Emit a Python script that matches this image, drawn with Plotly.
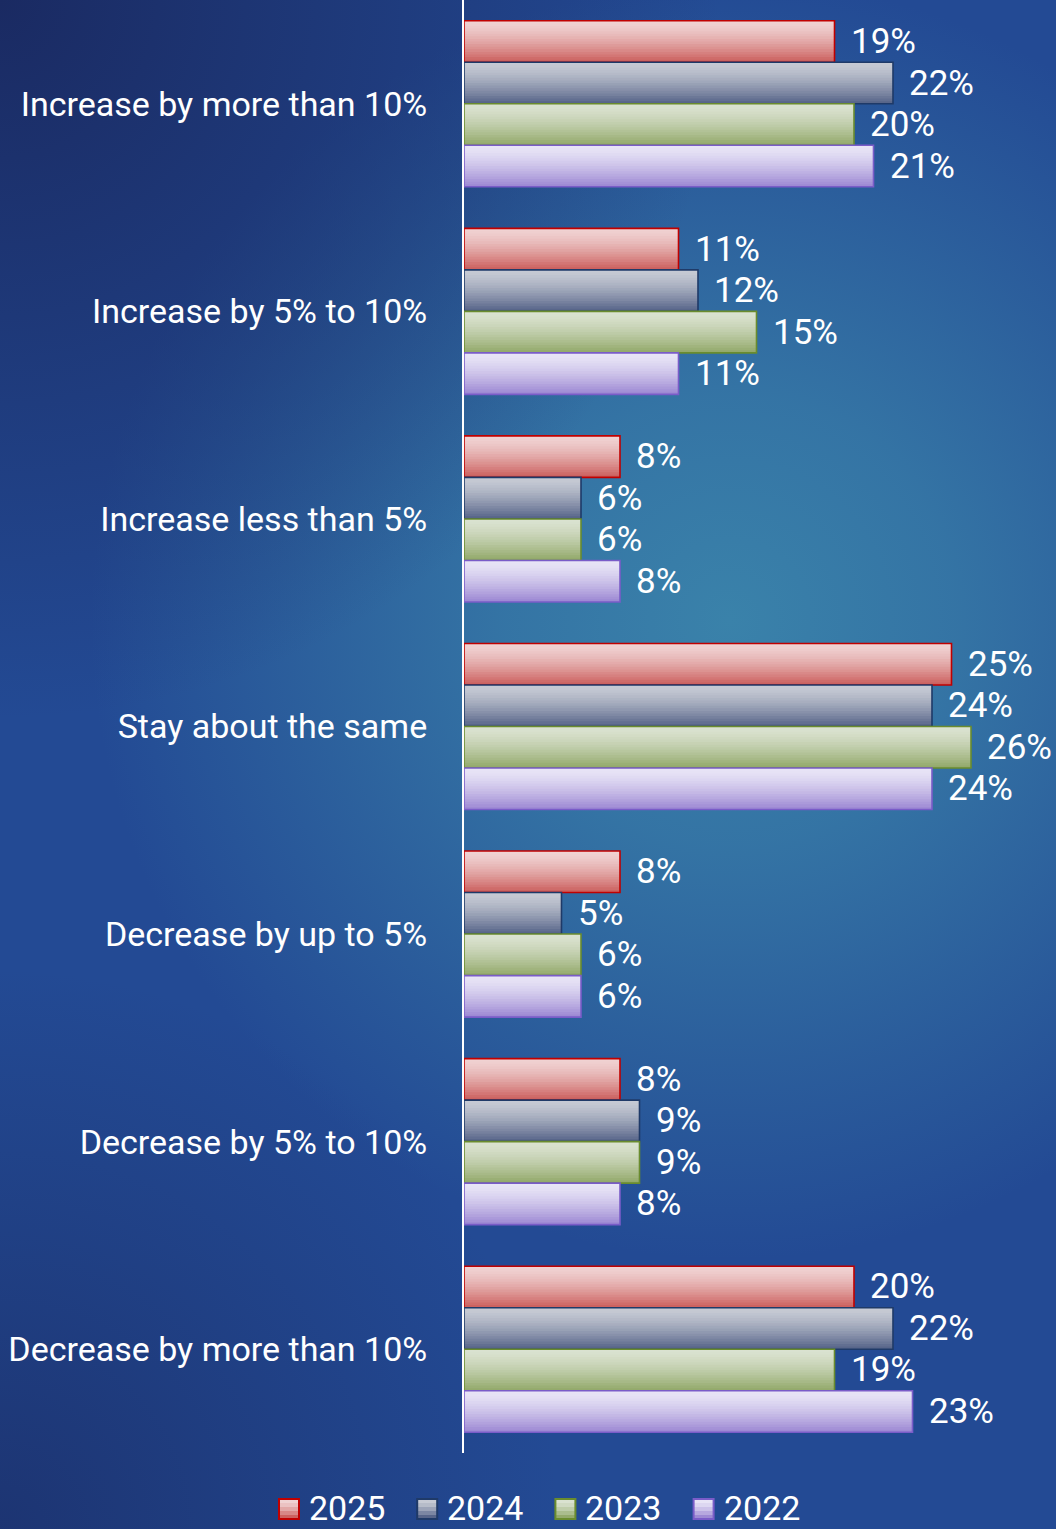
import base64
import plotly.graph_objects as go

# ---- data ----------------------------------------------------------------
categories = [
    "Increase by more than 10%",
    "Increase by 5% to 10%",
    "Increase less than 5%",
    "Stay about the same",
    "Decrease by up to 5%",
    "Decrease by 5% to 10%",
    "Decrease by more than 10%",
]
years = ["2025", "2024", "2023", "2022"]
values_2025 = [19, 11, 8, 25, 8, 8, 20]
values_2024 = [22, 12, 6, 24, 5, 9, 22]
values_2023 = [20, 15, 6, 26, 6, 9, 19]
values_2022 = [21, 11, 8, 24, 6, 8, 23]
series = [values_2025, values_2024, values_2023, values_2022]

# ---- styling ---------------------------------------------------------------
grad_top = [(240, 210, 210), (198, 202, 212), (218, 226, 208), (232, 228, 246)]
grad_bot = [(204, 98, 96), (88, 102, 138), (148, 170, 108), (158, 138, 212)]
borders = ["#C00000", "#1F3A68", "#6A8C2E", "#7A5CC8"]
FONT = "Roboto"

W, H = 1056, 1529
ML, MR, MT, MB = 464, 0, 0, 76
PW, PH = W - ML - MR, H - MT - MB
PX_PER_UNIT = 19.5
BAR_W = 0.2          # each bar's thickness in category units
N_STRIPS = 16        # layers used to build the vertical shading of a bar

# legend row (pixel layout)
LEG_X0, LEG_PITCH, LEG_CY, LEG_BOX = 279, 138.2, 1509, 20


def mix(c0, c1, f):
    return "rgb(%d,%d,%d)" % tuple(round(a + (b - a) * f) for a, b in zip(c0, c1))


def paper_x(px):
    return (px - ML) / PW


def paper_y(py):
    return (MT + PH - py) / PH


fig = go.Figure()

for i, vals in enumerate(series):
    base_off = -0.4 + i * BAR_W
    sw = BAR_W / N_STRIPS
    # shaded body: each layer starts lower and runs to the bar's bottom edge,
    # so later (darker) layers cover the lower part without leaving seams
    for k in range(N_STRIPS):
        t = k / (N_STRIPS - 1)
        fig.add_trace(go.Bar(
            orientation="h", y=categories, x=vals,
            offset=base_off + k * sw, width=BAR_W - k * sw,
            marker=dict(color=mix(grad_top[i], grad_bot[i], t ** 1.4), line=dict(width=0)),
            showlegend=False, hoverinfo="skip",
        ))
    # outline
    fig.add_trace(go.Bar(
        orientation="h", y=categories, x=vals, name=years[i],
        offset=base_off, width=BAR_W,
        marker=dict(color="rgba(0,0,0,0)", line=dict(color=borders[i], width=1.6)),
        showlegend=False,
    ))
    # value labels
    for j, v in enumerate(vals):
        fig.add_annotation(
            x=v, y=j + base_off + BAR_W / 2, xref="x", yref="y",
            text=f"{v}%", showarrow=False, xanchor="left", yanchor="middle",
            xshift=14, font=dict(family=FONT, size=35, color="white"),
        )

    # legend entry: shaded swatch + year
    lx = LEG_X0 + i * LEG_PITCH
    top, bot = LEG_CY - LEG_BOX / 2, LEG_CY + LEG_BOX / 2
    n_sw = 5
    for k in range(n_sw):
        fig.add_shape(
            type="rect", xref="paper", yref="paper",
            x0=paper_x(lx), x1=paper_x(lx + LEG_BOX),
            y0=paper_y(top + k * LEG_BOX / n_sw), y1=paper_y(bot),
            fillcolor=mix(grad_top[i], grad_bot[i], (k / (n_sw - 1)) ** 1.4),
            line=dict(width=0), layer="above",
        )
    fig.add_shape(
        type="rect", xref="paper", yref="paper",
        x0=paper_x(lx), x1=paper_x(lx + LEG_BOX), y0=paper_y(top), y1=paper_y(bot),
        fillcolor="rgba(0,0,0,0)", line=dict(color=borders[i], width=2), layer="above",
    )
    fig.add_annotation(
        x=paper_x(lx + LEG_BOX + 9), y=paper_y(LEG_CY - 1), xref="paper", yref="paper",
        text=years[i], showarrow=False, xanchor="left", yanchor="middle", borderpad=0,
        font=dict(family=FONT, size=34, color="white"),
    )

# background: deep blue with a lighter teal glow in the middle
bg_svg = f"""<svg xmlns='http://www.w3.org/2000/svg' width='{W}' height='{H}' viewBox='0 0 {W} {H}'>
<defs>
<radialGradient id='glow' gradientUnits='userSpaceOnUse' cx='730' cy='620' r='640'>
<stop offset='0' stop-color='#3A82AA' stop-opacity='1'/>
<stop offset='0.35' stop-color='#3A82AA' stop-opacity='0.75'/>
<stop offset='1' stop-color='#3A82AA' stop-opacity='0'/>
</radialGradient>
<radialGradient id='tl' gradientUnits='userSpaceOnUse' cx='0' cy='0' r='720'>
<stop offset='0' stop-color='#1A2A62' stop-opacity='1'/>
<stop offset='1' stop-color='#1A2A62' stop-opacity='0'/>
</radialGradient>
<radialGradient id='bl' gradientUnits='userSpaceOnUse' cx='0' cy='{H}' r='560'>
<stop offset='0' stop-color='#1B2F6A' stop-opacity='0.8'/>
<stop offset='1' stop-color='#1B2F6A' stop-opacity='0'/>
</radialGradient>
</defs>
<rect width='{W}' height='{H}' fill='#234A94'/>
<rect width='{W}' height='{H}' fill='url(#glow)'/>
<rect width='{W}' height='{H}' fill='url(#tl)'/>
<rect width='{W}' height='{H}' fill='url(#bl)'/>
</svg>"""
bg_uri = "data:image/svg+xml;base64," + base64.b64encode(bg_svg.encode()).decode()

fig.update_layout(
    template="none",
    width=W, height=H,
    margin=dict(l=ML, r=MR, t=MT, b=MB, pad=0, autoexpand=False),
    barmode="overlay",
    paper_bgcolor="#234A94",
    plot_bgcolor="rgba(0,0,0,0)",
    images=[dict(
        source=bg_uri, xref="paper", yref="paper",
        x=-ML / PW, y=1 + MT / PH, sizex=W / PW, sizey=H / PH,
        xanchor="left", yanchor="top", sizing="stretch", layer="below",
    )],
    xaxis=dict(range=[0, PW / PX_PER_UNIT], visible=False, fixedrange=True),
    yaxis=dict(
        type="category", autorange="reversed", showgrid=False, zeroline=False,
        showline=True, linecolor="white", linewidth=2, ticks="",
        ticklabelstandoff=28, automargin=False,
        tickfont=dict(family=FONT, size=34, color="white"),
    ),
    showlegend=False,
)

fig.write_html("out.html")
